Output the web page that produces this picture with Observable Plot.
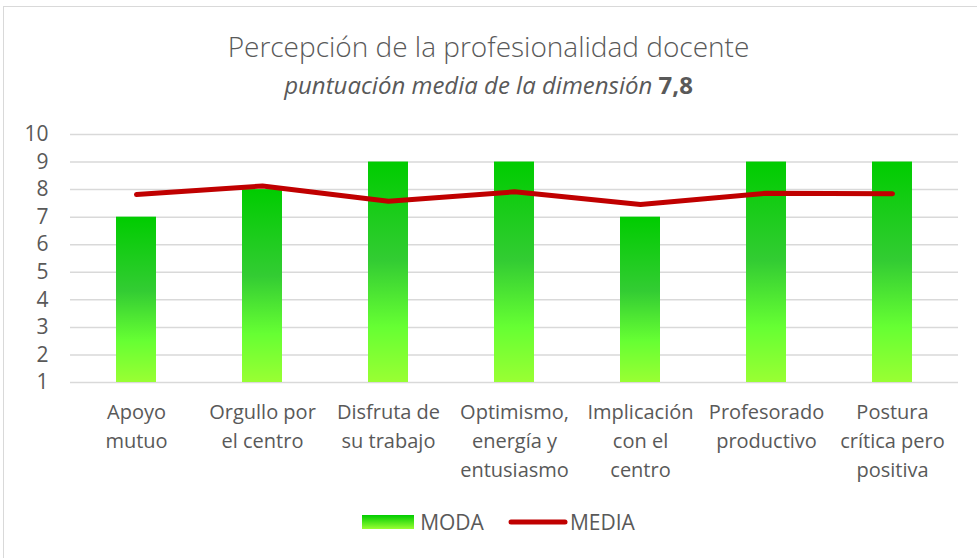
<!DOCTYPE html>
<html>
<head>
<meta charset="utf-8">
<script src="https://cdn.jsdelivr.net/npm/d3@7"></script>
<script src="https://cdn.jsdelivr.net/npm/@observablehq/plot@0.6"></script>
<style>
  html, body { margin: 0; padding: 0; background: #fff; }
  #frame { position: relative; width: 977px; height: 558px; overflow: hidden; font-family: "Open Sans", sans-serif; color: #595959; }
  #border { position: absolute; left: 3px; top: 6px; width: 1000px; height: 600px; border: 1.5px solid #d9d9d9; box-sizing: border-box; }
  #title { position: absolute; left: 0; width: 977px; top: 28px; text-align: center; font-size: 28px; font-weight: 300; line-height: 36px; }
  #subtitle { position: absolute; left: 0; width: 977px; top: 69px; text-align: center; font-size: 24px; line-height: 32px; }
  #chart { position: absolute; left: 0; top: 110px; }
  #legend { position: absolute; left: 10px; width: 977px; top: 508px; display: flex; justify-content: center; align-items: center; font-size: 21px; line-height: 28px; }
  .item { display: flex; align-items: center; margin: 0 12px; }
</style>
</head>
<body>
<div id="frame">
  <div id="border"></div>
  <div id="title">Percepción de la profesionalidad docente</div>
  <div id="subtitle"><i>puntuación media de la dimensión</i> <b>7,8</b></div>
  <div id="chart"></div>
  <div id="legend">
    <div class="item"><svg width="56" height="16" style="margin-right:2px"><defs><linearGradient id="lg" x1="0" y1="0" x2="0" y2="1"><stop offset="0" stop-color="#00cc00"/><stop offset="1" stop-color="#99ff33"/></linearGradient></defs><rect x="0" y="1" width="52" height="14" fill="url(#lg)"/></svg><span>MODA</span></div>
    <div class="item"><svg width="60" height="16" style="margin-right:2px"><line x1="3" x2="57" y1="8" y2="8" stroke="#c00000" stroke-width="5" stroke-linecap="round"/></svg><span>MEDIA</span></div>
  </div>
</div>
<script>
const categories = [
  "Apoyo\nmutuo",
  "Orgullo por\nel centro",
  "Disfruta de\nsu trabajo",
  "Optimismo,\nenergía y\nentusiasmo",
  "Implicación\ncon el\ncentro",
  "Profesorado\nproductivo",
  "Postura\ncrítica pero\npositiva"
];
const moda = [7, 8, 9, 9, 7, 9, 9];
const media = [7.82, 8.13, 7.58, 7.92, 7.46, 7.87, 7.85];
const yTicks = [1, 2, 3, 4, 5, 6, 7, 8, 9, 10];

const data = categories.map((c, i) => ({cat: c, moda: moda[i], media: media[i]}));

const chart = Plot.plot({
  width: 977,
  height: 390,
  marginLeft: 70,
  marginRight: 19,
  marginTop: 24,
  marginBottom: 118,
  style: {fontFamily: "Open Sans, sans-serif", color: "#595959", background: "transparent"},
  x: {domain: categories, paddingInner: 0.685, paddingOuter: 0.3425, label: null},
  y: {domain: [1, 10], label: null},
  marks: [
    () => {
      const ns = "http://www.w3.org/2000/svg";
      const defs = document.createElementNS(ns, "defs");
      defs.innerHTML = `<linearGradient id="barGrad" x1="0" y1="0" x2="0" y2="1">
        <stop offset="0" stop-color="#00cc00"/>
        <stop offset="0.45" stop-color="#33cc33"/>
        <stop offset="0.75" stop-color="#66ff33"/>
        <stop offset="1" stop-color="#99ff33"/>
      </linearGradient>`;
      return defs;
    },
    Plot.ruleY(yTicks, {stroke: "#d9d9d9", strokeWidth: 1.5}),
    Plot.barY(data, {x: "cat", y1: 1, y2: "moda", fill: "url(#barGrad)"}),
    Plot.line(data, {x: "cat", y: "media", stroke: "#c00000", strokeWidth: 5, strokeLinecap: "round", strokeLinejoin: "round"}),
    Plot.axisY({ticks: yTicks, tickSize: 0, tickPadding: 22, fontSize: 21, label: null}),
    Plot.axisX({tickSize: 0, tickPadding: 16, fontSize: 20, lineHeight: 1.45, label: null})
  ]
});
document.getElementById("chart").appendChild(chart);
</script>
</body>
</html>
